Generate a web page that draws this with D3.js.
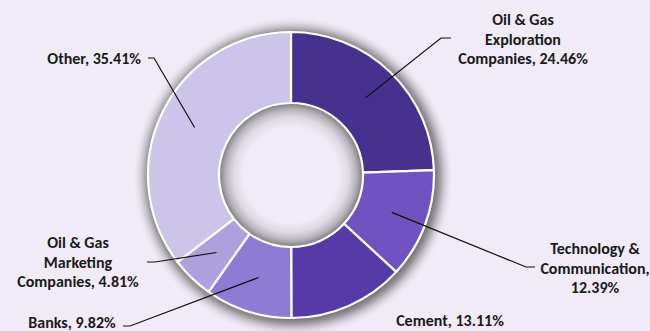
<!DOCTYPE html>
<html>
<head>
<meta charset="utf-8">
<script src="https://cdn.jsdelivr.net/npm/d3@7"></script>
<style>
  html, body { margin: 0; padding: 0; background: #f0ebf6; }
  svg { display: block; }
  text { font-family: Carlito, Lato, "Open Sans", sans-serif; font-weight: 700; fill: #1a1a1a; }
</style>
</head>
<body>
<svg id="chart" width="650" height="331"></svg>
<script>
// Sector shares (%), clockwise from 12 o'clock
const sectors = ["Oil & Gas Exploration Companies", "Technology & Communication", "Cement", "Banks", "Oil & Gas Marketing Companies", "Other"];
const shares = [24.46, 12.39, 13.11, 9.82, 4.81, 35.41];
const sliceColors = ["#47318e", "#7053c1", "#563aa5", "#8e7bd3", "#ae9fdd", "#cdc4ea"];
// Label text, line by line
const labelLines = [
  ["Oil & Gas", "Exploration", "Companies, 24.46%"],
  ["Technology &", "Communication,", "12.39%"],
  ["Cement, 13.11%"],
  ["Banks, 9.82%"],
  ["Oil & Gas", "Marketing", "Companies, 4.81%"],
  ["Other, 35.41%"]
];
// Label placement: text anchor point, anchor mode, and leader elbow (null = no leader)
const labelPos = [[523, 25], [595, 254], [450, 326], [72, 328], [78, 248], [141, 64]];
const labelAnchor = ["middle", "middle", "middle", "middle", "middle", "end"];
const elbows = [[[451, 38], [441, 38]], [[535, 267], [526, 267]], null, [[123, 326], [130, 326]], [[147, 262], [155, 262]], [[148, 58], [154, 58]]];

const svg = d3.select("#chart");
const cx = 291, cy = 175, rOuter = 143, rInner = 72;
const halo = 16;

// Soft grey shadow around the ring and inside the hole, built from radial gradients
const defs = svg.append("defs");
const outerGrad = defs.append("radialGradient").attr("id", "outerShadow")
  .attr("gradientUnits", "userSpaceOnUse").attr("cx", 2).attr("cy", 2).attr("r", rOuter + halo);
[[0, 0.7], [(rOuter - 2) / (rOuter + halo), 0.7], [(rOuter + 3) / (rOuter + halo), 0.5],
 [(rOuter + 8) / (rOuter + halo), 0.22], [(rOuter + 12) / (rOuter + halo), 0.07], [1, 0]]
  .forEach(([o, a]) => outerGrad.append("stop").attr("offset", o).attr("stop-color", "#3c3c3c").attr("stop-opacity", a));
const innerGrad = defs.append("radialGradient").attr("id", "innerShadow")
  .attr("gradientUnits", "userSpaceOnUse").attr("cx", 0).attr("cy", 0).attr("r", rInner);
[[0, 0], [0.66, 0], [0.8, 0.1], [0.9, 0.3], [0.96, 0.5], [1, 0.65]]
  .forEach(([o, a]) => innerGrad.append("stop").attr("offset", o).attr("stop-color", "#3c3c3c").attr("stop-opacity", a));

const pie = d3.pie().sort(null).value(d => d).startAngle(0).endAngle(2 * Math.PI);
const arcs = pie(shares);
const arc = d3.arc().innerRadius(rInner).outerRadius(rOuter);
const mid = d3.arc().innerRadius((rInner + rOuter) / 2).outerRadius((rInner + rOuter) / 2);

const g = svg.append("g").attr("transform", `translate(${cx},${cy})`);
g.append("circle").attr("cx", 2).attr("cy", 2).attr("r", rOuter + halo).attr("fill", "url(#outerShadow)");
g.append("circle").attr("r", rInner).attr("fill", "#f0ebf6");
g.append("circle").attr("r", rInner).attr("fill", "url(#innerShadow)");

g.append("g")
  .selectAll("path").data(arcs).join("path")
  .attr("d", arc)
  .attr("fill", (d, i) => sliceColors[i])
  .attr("stroke", "#ffffff")
  .attr("stroke-width", 2.2)
  .attr("stroke-linejoin", "round");

// Leader lines from each slice centroid to its label
const line = d3.line();
arcs.forEach((d, i) => {
  if (!elbows[i]) return;
  const c = mid.centroid(d);
  const pts = [[cx + c[0], cy + c[1]], elbows[i][1], elbows[i][0]];
  svg.append("path").attr("d", line(pts))
    .attr("fill", "none").attr("stroke", "#111").attr("stroke-width", 1.2);
});

// Labels
const lh = 19.5;
labelLines.forEach((lines, i) => {
  const [x, y] = labelPos[i];
  const t = svg.append("text")
    .attr("x", x).attr("y", y)
    .attr("text-anchor", labelAnchor[i])
    .attr("font-size", 16);
  lines.forEach((s, j) => {
    t.append("tspan").attr("x", x).attr("dy", j === 0 ? 0 : lh).text(s);
  });
});
</script>
</body>
</html>
